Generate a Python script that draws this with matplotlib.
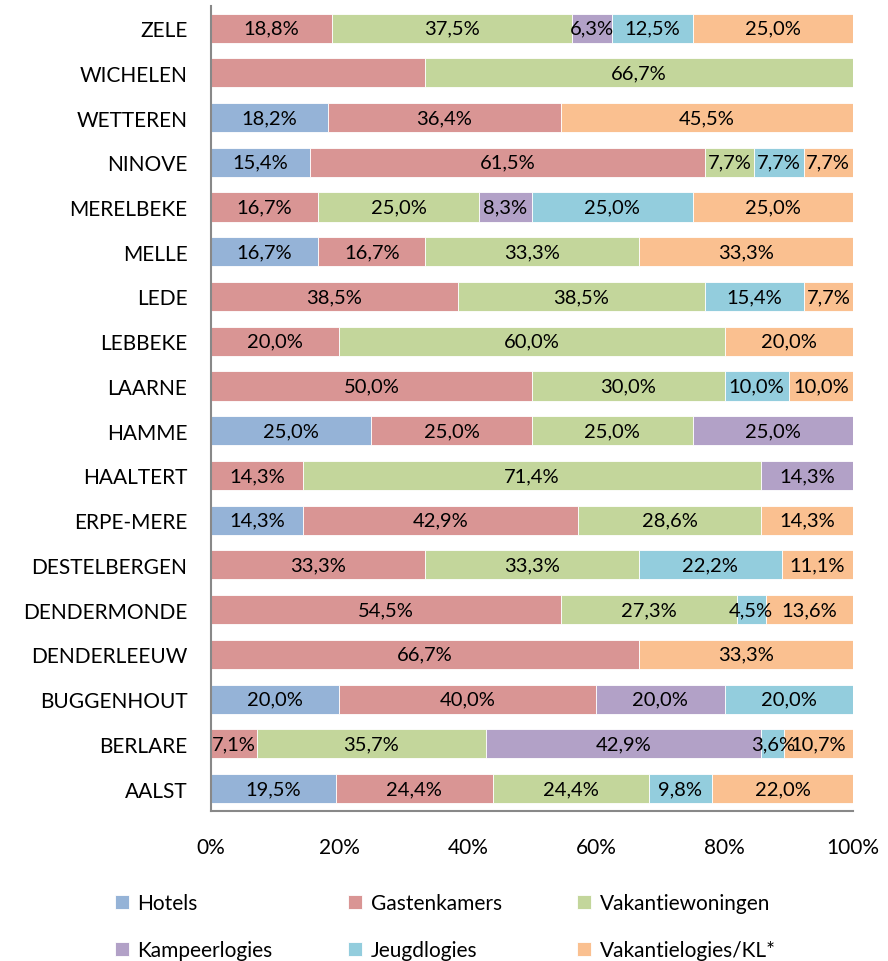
import numpy as np
import matplotlib.pyplot as plt

plt.rcParams['font.family'] = ['Lato', 'DejaVu Sans']

gemeenten = ["AALST", "BERLARE", "BUGGENHOUT", "DENDERLEEUW", "DENDERMONDE",
             "DESTELBERGEN", "ERPE-MERE", "HAALTERT", "HAMME", "LAARNE",
             "LEBBEKE", "LEDE", "MELLE", "MERELBEKE", "NINOVE", "WETTEREN",
             "WICHELEN", "ZELE"]
types = ["Hotels", "Gastenkamers", "Vakantiewoningen",
         "Kampeerlogies", "Jeugdlogies", "Vakantielogies/KL*"]
colors = ["#95B3D7", "#D99594", "#C3D69B", "#B2A1C7", "#93CDDD", "#FAC090"]

hotels           = [19.5, 0, 20.0, 0, 0, 0, 14.3, 0, 25.0, 0, 0, 0, 16.7, 0, 15.4, 18.2, 0, 0]
gastenkamers     = [24.4, 7.1, 40.0, 66.7, 54.5, 33.3, 42.9, 14.3, 25.0, 50.0, 20.0, 38.5, 16.7, 16.7, 61.5, 36.4, 33.3, 18.8]
vakantiewoningen = [24.4, 35.7, 0, 0, 27.3, 33.3, 28.6, 71.4, 25.0, 30.0, 60.0, 38.5, 33.3, 25.0, 7.7, 0, 66.7, 37.5]
kampeerlogies    = [0, 42.9, 20.0, 0, 0, 0, 0, 14.3, 25.0, 0, 0, 0, 0, 8.3, 0, 0, 0, 6.3]
jeugdlogies      = [9.8, 3.6, 20.0, 0, 4.5, 22.2, 0, 0, 0, 10.0, 0, 15.4, 0, 25.0, 7.7, 0, 0, 12.5]
vakantielogies   = [22.0, 10.7, 0, 33.3, 13.6, 11.1, 14.3, 0, 0, 10.0, 20.0, 7.7, 33.3, 25.0, 7.7, 45.5, 0, 25.0]

# labels not shown in the original (gemeente, type)
hidden = {("WICHELEN", "Gastenkamers")}

data = np.array([hotels, gastenkamers, vakantiewoningen,
                 kampeerlogies, jeugdlogies, vakantielogies])
shares = data / data.sum(axis=0) * 100

fig = plt.figure(figsize=(8.88, 9.62), dpi=100)
ax = fig.add_axes([0.2376, 0.156, 0.7230, 0.837])

y = np.arange(len(gemeenten))
left = np.zeros(len(gemeenten))
handles = []
for i, t in enumerate(types):
    bars = ax.barh(y, shares[i], left=left, height=0.65, color=colors[i],
                   label=t, edgecolor="white", linewidth=0.6)
    handles.append(bars)
    for j, v in enumerate(data[i]):
        if v > 0 and (gemeenten[j], t) not in hidden:
            ax.text(left[j] + shares[i][j] / 2, y[j],
                    f"{v:.1f}%".replace(".", ","),
                    ha="center", va="center", fontsize=14.5, color="black")
    left += shares[i]

ax.set_xlim(0, 100)
ax.set_ylim(-0.5, len(gemeenten) - 0.5)
ax.set_yticks(y)
ax.set_yticklabels(gemeenten, fontsize=15)
ax.set_xticks(np.arange(0, 101, 20))
ax.set_xticklabels([f"{v}%" for v in range(0, 101, 20)], fontsize=15)
ax.tick_params(length=0)
ax.tick_params(axis="x", pad=19)
ax.tick_params(axis="y", pad=17)
for s in ["top", "right"]:
    ax.spines[s].set_visible(False)
for s in ["left", "bottom"]:
    ax.spines[s].set_color("#888888")
    ax.spines[s].set_linewidth(1.5)

# legend filled row by row, like the original
order = [0, 3, 1, 4, 2, 5]
fig.legend([handles[k] for k in order], [types[k] for k in order],
           loc="upper left", bbox_to_anchor=(0.108, 0.09), ncol=3,
           frameon=False, fontsize=15, handlelength=0.7, handleheight=0.7,
           handletextpad=0.4, columnspacing=3.6, labelspacing=1.3)

fig.savefig("out.png", dpi=100)
